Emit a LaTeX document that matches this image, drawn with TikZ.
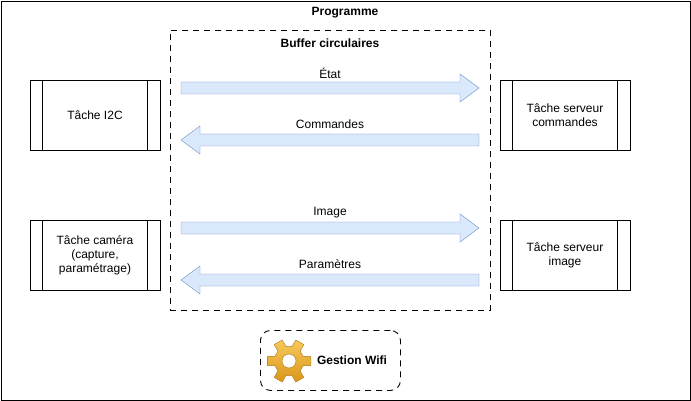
\documentclass[tikz,border=0pt]{standalone}
\usepackage{fontspec}
\setmainfont{Liberation Sans}
\definecolor{afill}{HTML}{DAE8FC}
\definecolor{aline}{HTML}{6C8EBF}
\definecolor{gearA}{HTML}{F7C95A}
\definecolor{gearB}{HTML}{D9961A}
\begin{document}
\begin{tikzpicture}[x=1pt,y=-1pt,
  txt/.style={font=\fontsize{12}{14}\selectfont,align=center},
  btxt/.style={font=\fontsize{12}{14}\selectfont\bfseries},
  dsh/.style={dash pattern=on 6pt off 5pt,line width=0.9},
  proc/.style={draw,line width=0.9,minimum width=130,minimum height=70,inner sep=0,txt},
  arr/.style={fill=afill,draw=aline}]
\useasboundingbox (0,0) rectangle (691,401);
\node[draw,minimum width=689,minimum height=399,anchor=north west] (prog) at (1,1) {};
\node[btxt] (ptitle) at (345,13) {Programme};
\node[draw,dsh,minimum width=320,minimum height=280,anchor=north west] (buf) at (170,30) {};
\node[btxt] (btitle) at (330,43) {Buffer circulaires};
\foreach \n/\x/\y/\t in {i2c/95/115/{Tâche I2C},cam/95/255/{Tâche caméra\\(capture,\\paramétrage)},cmd/565/115/{Tâche serveur\\commandes},img/565/255/{Tâche serveur\\image}}{
  \node[proc] (\n) at (\x,\y) {\t};
  \draw[line width=0.9] ([xshift=13]\n.north west) -- ([xshift=13]\n.south west);
  \draw[line width=0.9] ([xshift=-13]\n.north east) -- ([xshift=-13]\n.south east);
}
\foreach \y in {88,228}{
  \draw[arr] (181,\y-6) -- (460,\y-6) -- (460,\y-14) -- (479,\y) -- (460,\y+14) -- (460,\y+6) -- (181,\y+6) -- cycle;
}
\foreach \y in {140,280}{
  \draw[arr] (479,\y-6) -- (200,\y-6) -- (200,\y-14) -- (181,\y) -- (200,\y+14) -- (200,\y+6) -- (479,\y+6) -- cycle;
}
\node[txt] (l1) at (330,73) {État};
\node[txt] (l2) at (330,124) {Commandes};
\node[txt] (l3) at (330,213) {Image};
\node[txt] (l4) at (330,264) {Paramètres};
\node[draw,dsh,rounded corners=10,minimum width=140,minimum height=60,anchor=north west] (wifi) at (260,330) {};
\node[btxt] (wtxt) at (352,360) {Gestion Wifi};
\begin{scope}[shift={(289,361)}]
\path[top color=gearA,bottom color=gearB,draw=gearB!80!black,line width=0.4,even odd rule]
  plot[smooth cycle,tension=0.1] coordinates {
  (0:22)(12:22)(18:15)(42:15)(48:22)(72:22)(78:15)(102:15)(108:22)(132:22)(138:15)(162:15)(168:22)(192:22)(198:15)(222:15)(228:22)(252:22)(258:15)(282:15)(288:22)(312:22)(318:15)(342:15)(348:22)}
  (0,0) circle (7);
\end{scope}
\end{tikzpicture}
\end{document}
